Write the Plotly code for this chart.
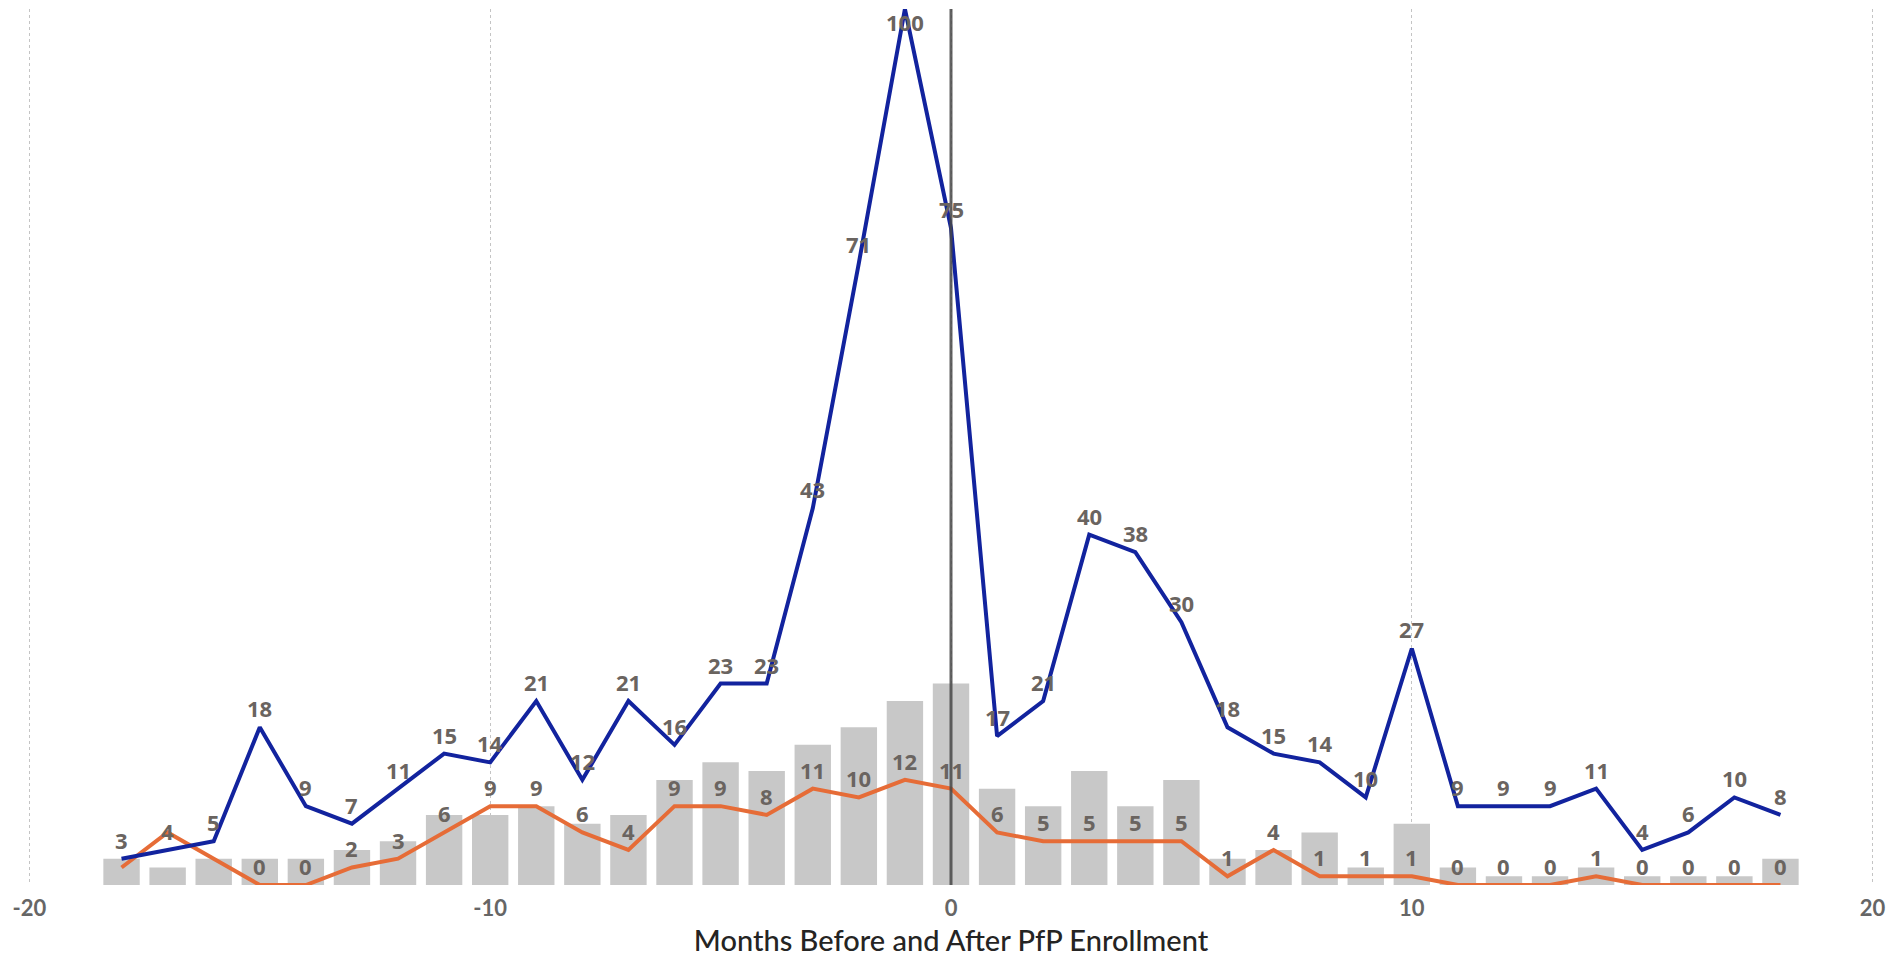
import plotly.graph_objects as go

# Months relative to enrollment
months = list(range(-18, 19))

# Blue series (labelled values)
blue_vals = [3, 4, 5, 18, 9, 7, 11, 15, 14, 21, 12, 21, 16, 23, 23, 43, 71, 100, 75,
             17, 21, 40, 38, 30, 18, 15, 14, 10, 27, 9, 9, 9, 11, 4, 6, 10, 8]

# Orange series
orange_vals = [2, 6, 3, 0, 0, 2, 3, 6, 9, 9, 6, 4, 9, 9, 8, 11, 10, 12, 11,
               6, 5, 5, 5, 5, 1, 4, 1, 1, 1, 0, 0, 0, 1, 0, 0, 0, 0]

# Gray columns
bar_vals = [3, 2, 3, 3, 3, 4, 5, 8, 8, 9, 7, 8, 12, 14, 13, 16, 18, 21, 23,
            11, 9, 13, 9, 12, 3, 4, 6, 2, 7, 2, 1, 1, 2, 1, 1, 1, 3]

# First month from which orange labels are shown
orange_label_start = -15

x_ticks = [-20, -10, 0, 10, 20]

BLUE = "#12239E"
ORANGE = "#E66C37"
BAR = "#C8C8C8"
LABEL_COLOR = "#6A6460"

fig = go.Figure()

fig.add_trace(go.Bar(
    x=months, y=bar_vals, marker=dict(color=BAR, line=dict(width=0)),
    width=0.79, hoverinfo="skip", showlegend=False,
))
fig.add_trace(go.Scatter(
    x=months, y=orange_vals, mode="lines",
    line=dict(color=ORANGE, width=4), cliponaxis=False, showlegend=False,
))
fig.add_trace(go.Scatter(
    x=months, y=blue_vals, mode="lines",
    line=dict(color=BLUE, width=4), cliponaxis=False, showlegend=False,
))

y_max = 100
label_font = dict(family="Open Sans", size=22, color=LABEL_COLOR, weight=700)


def add_labels(xs, ys, start=None):
    for xv, yv in zip(xs, ys):
        if start is not None and xv < start:
            continue
        shift = -13 if yv >= y_max else 19
        fig.add_annotation(
            x=xv, y=yv, text=str(yv), showarrow=False,
            yshift=shift, yanchor="middle", xanchor="center",
            font=label_font,
        )


add_labels(months, orange_vals, orange_label_start)
add_labels(months, blue_vals)

# Reference line at enrollment month
fig.add_shape(
    type="line", x0=0, x1=0, y0=0, y1=y_max, xref="x", yref="y",
    line=dict(color="rgba(70,70,70,0.85)", width=3), layer="above",
)

fig.update_layout(
    width=1895, height=965,
    margin=dict(l=28, r=19, t=9, b=80),
    paper_bgcolor="white", plot_bgcolor="white",
    bargap=0.2,
    xaxis=dict(
        range=[-20.03, 20.03], tickvals=x_ticks, ticktext=[str(t) for t in x_ticks],
        showgrid=True, gridcolor="#C4C4C4", griddash="dot", gridwidth=1,
        zeroline=False, showline=False, ticks="",
        ticklabelstandoff=8,
        tickfont=dict(family="Lato", size=22, color="#666666", weight=700),
        title=dict(text="Months Before and After PfP Enrollment",
                   font=dict(family="Lato", size=29, color="#252423", weight=500),
                   standoff=10),
    ),
    yaxis=dict(
        range=[0, y_max], visible=False, showgrid=False, zeroline=False,
    ),
)

fig.write_html("out.html")
